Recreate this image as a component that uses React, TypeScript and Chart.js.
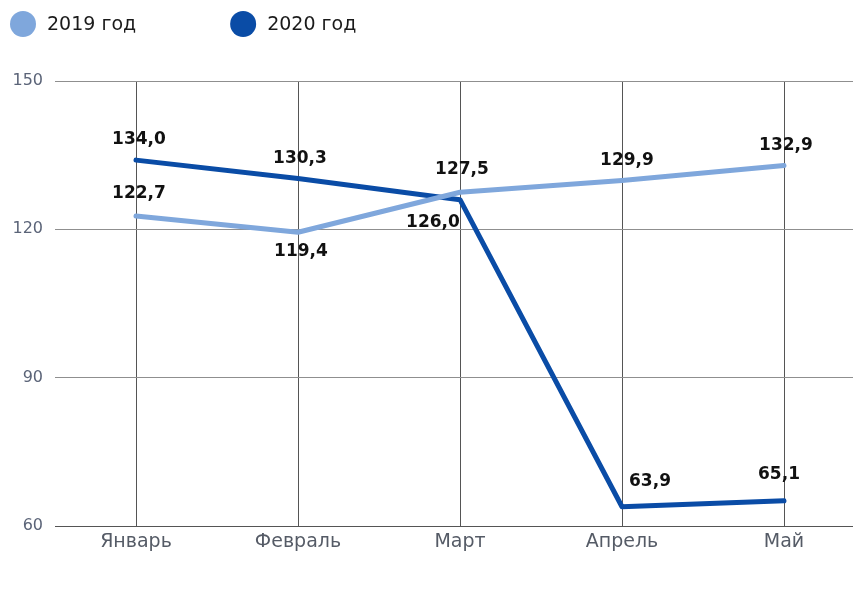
import React, { useEffect, useRef } from "react";
import { Chart, registerables } from "chart.js";

Chart.register(...registerables);

const months = ["Январь", "Февраль", "Март", "Апрель", "Май"];
const series2019 = [122.7, 119.4, 127.5, 129.9, 132.9];
const series2020 = [134.0, 130.3, 126.0, 63.9, 65.1];
const seriesNames = ["2019 год", "2020 год"];
const yTicks = [60, 90, 120, 150];

const COLOR_2019 = "#7fa7dc";
const COLOR_2020 = "#0a4ca6";
const FONT = "'DejaVu Sans', 'Noto Sans', sans-serif";

// label placement offsets (dx, dy) relative to the point, per dataset
const labelOffsets = [
  [[3, -22], [3, 19], [2, -23], [5, -20], [2, -20]],
  [[3, -21], [2, -20], [-27, 23], [28, -25], [-5, -26]],
];

const fmt = (v: number) => v.toFixed(1).replace(".", ",");

const legendPlugin = {
  id: "customLegend",
  afterDraw(chart: any) {
    const ctx = chart.ctx;
    ctx.save();
    ctx.font = `19px ${FONT}`;
    ctx.textBaseline = "middle";
    ctx.textAlign = "left";
    let x = 10;
    const cy = 24;
    chart.data.datasets.forEach((ds: any) => {
      ctx.beginPath();
      ctx.fillStyle = ds.borderColor;
      ctx.arc(x + 13, cy, 13, 0, Math.PI * 2);
      ctx.fill();
      ctx.fillStyle = "#1a1a1a";
      const tx = x + 37;
      ctx.fillText(ds.label, tx, cy + 1);
      x = tx + ctx.measureText(ds.label).width + 94;
    });
    ctx.restore();
  },
};

const valueLabelPlugin = {
  id: "valueLabels",
  afterDatasetsDraw(chart: any) {
    const ctx = chart.ctx;
    ctx.save();
    ctx.font = `bold 17px ${FONT}`;
    ctx.fillStyle = "#111111";
    ctx.textAlign = "center";
    ctx.textBaseline = "middle";
    chart.data.datasets.forEach((ds: any, di: number) => {
      const meta = chart.getDatasetMeta(di);
      meta.data.forEach((pt: any, i: number) => {
        const [dx, dy] = labelOffsets[di][i];
        ctx.fillText(fmt(ds.data[i]), pt.x + dx, pt.y + dy);
      });
    });
    ctx.restore();
  },
};

export default function App() {
  const canvasRef = useRef<HTMLCanvasElement | null>(null);

  useEffect(() => {
    if (!canvasRef.current) return;
    const chart = new Chart(canvasRef.current, {
      type: "line",
      data: {
        labels: months,
        datasets: [
          {
            label: seriesNames[0],
            data: series2019,
            borderColor: COLOR_2019,
            backgroundColor: COLOR_2019,
            borderWidth: 5,
            pointRadius: 0,
            borderCapStyle: "round",
            borderJoinStyle: "round",
            tension: 0,
          },
          {
            label: seriesNames[1],
            data: series2020,
            borderColor: COLOR_2020,
            backgroundColor: COLOR_2020,
            borderWidth: 5,
            pointRadius: 0,
            borderCapStyle: "round",
            borderJoinStyle: "round",
            tension: 0,
          },
        ],
      },
      options: {
        responsive: false,
        animation: false,
        layout: { padding: { top: 81, left: 0, right: 0, bottom: 0 } },
        plugins: {
          legend: { display: false },
          tooltip: { enabled: false },
        },
        scales: {
          x: {
            offset: true,
            border: { display: false },
            grid: {
              offset: false,
              color: "#555555",
              lineWidth: 1,
              drawTicks: false,
            },
            ticks: {
              color: "#555b66",
              padding: 5,
              font: { family: FONT, size: 19 },
              maxRotation: 0,
            },
            afterFit(scale: any) {
              scale.height = 68;
            },
          },
          y: {
            min: 60,
            max: 150,
            border: { display: false },
            grid: {
              color: (c: any) => (c.tick && c.tick.value === 60 ? "#555555" : "#8f8f8f"),
              lineWidth: 1,
              drawTicks: false,
            },
            afterBuildTicks(scale: any) {
              scale.ticks = yTicks.map((v) => ({ value: v }));
            },
            ticks: {
              color: "#5b6478",
              padding: 12,
              font: { family: FONT, size: 16 },
            },
            afterFit(scale: any) {
              scale.width = 55;
            },
          },
        },
      },
      plugins: [legendPlugin, valueLabelPlugin],
    });
    return () => chart.destroy();
  }, []);

  return (
    <div
      style={{
        position: "absolute",
        left: 0,
        top: 0,
        width: 853,
        height: 594,
        overflow: "hidden",
        background: "#ffffff",
      }}
    >
      <canvas ref={canvasRef} width={865} height={594} style={{ display: "block" }} />
    </div>
  );
}
